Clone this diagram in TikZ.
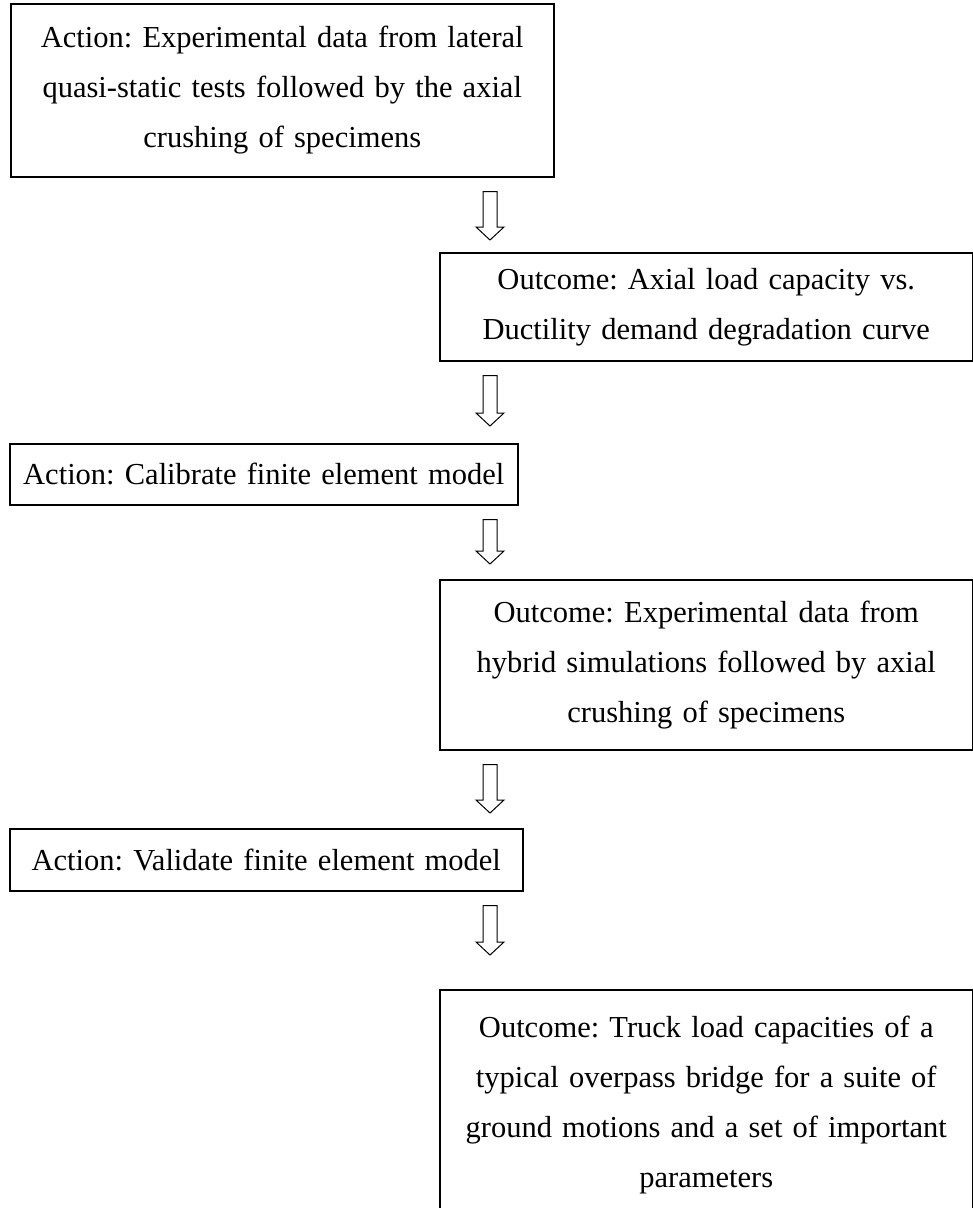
\documentclass[tikz,border=0pt]{standalone}
\usepackage{fontspec}
\setmainfont{Liberation Serif}
\usepackage{tikz}
\frenchspacing

\begin{document}
\begin{tikzpicture}[x=1pt,y=-1pt,
    stepbox/.style={draw, line width=1.5pt, inner sep=0pt, align=center,
        anchor=north west, font=\fontsize{30.5}{50}\selectfont},
    blockarrow/.style={draw, line width=1pt, line join=miter, to path={
        ([xshift=-7pt,yshift=-14pt]\tikztostart) -- ([xshift=7pt,yshift=-14pt]\tikztostart)
        -- ([xshift=7pt,yshift=#1+13pt]\tikztotarget) -- ([xshift=14pt,yshift=#1+13pt]\tikztotarget)
        -- ([yshift=#1]\tikztotarget) -- ([xshift=-14pt,yshift=#1+13pt]\tikztotarget)
        -- ([xshift=-7pt,yshift=#1+13pt]\tikztotarget) -- cycle}},
    blockarrow/.default=12pt]
    \pgfmathsetmacro{\ax}{490}
    \useasboundingbox (0,0) rectangle (973,1208);
    \coordinate (ax) at (\ax,0);

    % Draw the boxes
    \node [stepbox, text width=543pt, minimum height=173pt] (act1) at (10,3)
        {Action: Experimental data from lateral\\quasi-static tests followed by the axial\\crushing of specimens};
    \node [stepbox, text width=533pt, minimum height=108pt] (out1) at (439,252)
        {Outcome: Axial load capacity vs.\\Ductility demand degradation curve};
    \node [stepbox, text width=508pt, minimum height=61pt] (act2) at (9,443)
        {Action: Calibrate finite element model};
    \node [stepbox, text width=533pt, minimum height=170pt] (out2) at (439,579)
        {Outcome: Experimental data from\\hybrid simulations followed by axial\\crushing of specimens};
    \node [stepbox, text width=513pt, minimum height=62pt] (act3) at (9,828)
        {Action: Validate finite element model};
    \node [stepbox, text width=533pt, minimum height=230pt] (out3) at (439,989)
        {Outcome: Truck load capacities of a\\typical overpass bridge for a suite of\\ground motions and a set of important\\parameters};

    % Draw the block arrows
    \draw [blockarrow] (act1.south -| ax) to (out1.north -| ax);
    \draw [blockarrow=17pt] (out1.south -| ax) to (act2.north -| ax);
    \draw [blockarrow=15pt] (act2.south -| ax) to (out2.north -| ax);
    \draw [blockarrow=15pt] (out2.south -| ax) to (act3.north -| ax);
    \draw [blockarrow=34pt] (act3.south -| ax) to (out3.north -| ax);

\end{tikzpicture}
\end{document}
